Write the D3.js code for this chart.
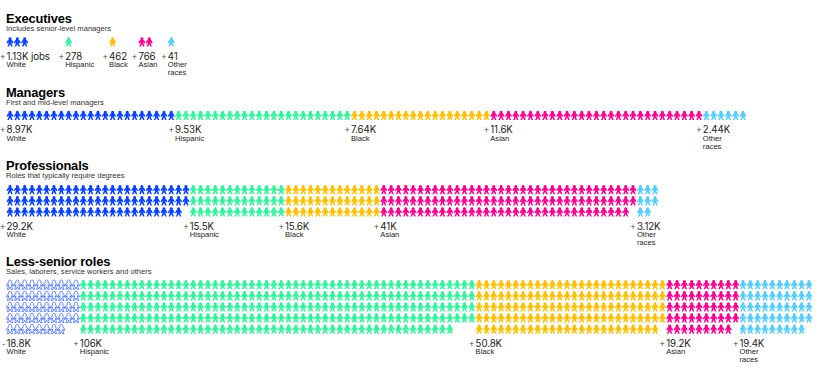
<!DOCTYPE html>
<html>
<head>
<meta charset="utf-8">
<script src="https://cdn.jsdelivr.net/npm/d3@7/dist/d3.min.js"></script>
<style>
  body { margin: 0; background: #fff; }
  svg { display: block; font-family: "Liberation Sans", sans-serif; }
</style>
</head>
<body>
<div id="chart"></div>
<script>
var races = ['White', 'Hispanic', 'Black', 'Asian', 'Other races'];
var raceColors = ['#0a40ff', '#2ef59a', '#ffbf00', '#fa0090', '#55ccff'];

var titles = ['Executives', 'Managers', 'Professionals', 'Less-senior roles'];
var subtitles = [
  'Includes senior-level managers',
  'First and mid-level managers',
  'Roles that typically require degrees',
  'Sales, laborers, service workers and others'
];

// change in jobs, as printed
var execLabels = ['1.13K jobs', '278', '462', '766', '41'];
var managerLabels = ['8.97K', '9.53K', '7.64K', '11.6K', '2.44K'];
var profLabels = ['29.2K', '15.5K', '15.6K', '41K', '3.12K'];
var seniorLabels = ['18.8K', '106K', '50.8K', '19.2K', '19.4K'];
var signs = [
  ['+', '+', '+', '+', '+'],
  ['+', '+', '+', '+', '+'],
  ['+', '+', '+', '+', '+'],
  ['-', '+', '+', '+', '+']
];

// icons per group, about 400 jobs each
var execIcons = [3, 1, 1, 2, 1];
var managerIcons = [23, 24, 19, 29, 6];
var profIcons = [74, 39, 39, 104, 8];
var seniorIcons = [48, 267, 129, 49, 49];

var execColumns = [3, 1, 1, 2, 1];
var managerColumns = [23, 24, 19, 29, 6];
var profColumns = [25, 13, 13, 35, 3];
var seniorColumns = [10, 54, 26, 10, 10];

// empty columns in front of each group on the executives row
var execGaps = [0, 5, 5, 3, 2];

var width = 822, height = 383;
var pitch = 7.33, rowStep = 11.1, iconH = 9.3, left = 6.5;

var svg = d3.select('#chart').append('svg')
    .attr('width', width)
    .attr('height', height);

var x = d3.scaleLinear().domain([0, 1]).range([left, left + pitch]);
var y = d3.scaleLinear().domain([0, 1]).range([0, rowStep]);

// little person, 7 wide and 9.3 tall
var person = 'M3.5,0a1.6,1.6 0 0 1 1.2,2.65L6,3.3L7,5.8L5.9,6.1L5,4.6L5,6.2L6.2,9.3L4.7,9.3L3.5,6.9' +
  'L2.3,9.3L0.8,9.3L2,6.2L2,4.6L1.1,6.1L0,5.8L1,3.3L2.3,2.65A1.6,1.6 0 0 1 3.5,0Z';

function drawRow(i, base, iconTop, icons, columns, labels, gaps) {
  var g = svg.append('g');
  var rows = d3.max(icons.map(function(n, k) { return Math.ceil(n / columns[k]); }));

  g.append('text').attr('x', 6).attr('y', base)
      .attr('font-size', 12.9).attr('font-weight', 700).attr('letter-spacing', -0.15)
      .attr('fill', '#000').text(titles[i]);
  g.append('text').attr('x', 6).attr('y', base + 8)
      .attr('font-size', 7.6).attr('fill', '#333').text(subtitles[i]);

  var col = 0;
  icons.forEach(function(n, k) {
    if (gaps) col += gaps[k];
    var start = col;
    var isLoss = signs[i][k] === '-';
    g.append('g').selectAll('path').data(d3.range(n)).join('path')
        .attr('d', person)
        .attr('transform', function(d) {
          return 'translate(' + x(start + d % columns[k]) + ',' +
            (iconTop + y(Math.floor(d / columns[k]))) + ')';
        })
        .attr('fill', isLoss ? '#fff' : raceColors[k])
        .attr('stroke', isLoss ? raceColors[k] : 'none')
        .attr('stroke-width', isLoss ? 0.6 : 0);

    var lx = x(start);
    var ly = iconTop + y(rows - 1) + iconH + 13;
    g.append('text').attr('x', lx - 1.4).attr('y', ly)
        .attr('text-anchor', 'end').attr('font-size', 8.5).attr('fill', '#444')
        .text(signs[i][k]);
    g.append('text').attr('x', lx).attr('y', ly)
        .attr('font-family', 'Inter').attr('font-size', 9.7).attr('letter-spacing', -0.1)
        .attr('fill', '#222').text(labels[k]);
    var words = k === 4 ? ['Other', 'races'] : [races[k]];
    words.forEach(function(w, j) {
      g.append('text').attr('x', lx).attr('y', ly + 7.7 + j * 8)
          .attr('font-size', 7.6).attr('fill', '#222').text(w);
    });
    col += columns[k];
  });
}

drawRow(0, 23, 37.3, execIcons, execColumns, execLabels, execGaps);
drawRow(1, 97, 110.7, managerIcons, managerColumns, managerLabels);
drawRow(2, 170, 185, profIcons, profColumns, profLabels);
drawRow(3, 265.7, 280, seniorIcons, seniorColumns, seniorLabels);
</script>
</body>
</html>
